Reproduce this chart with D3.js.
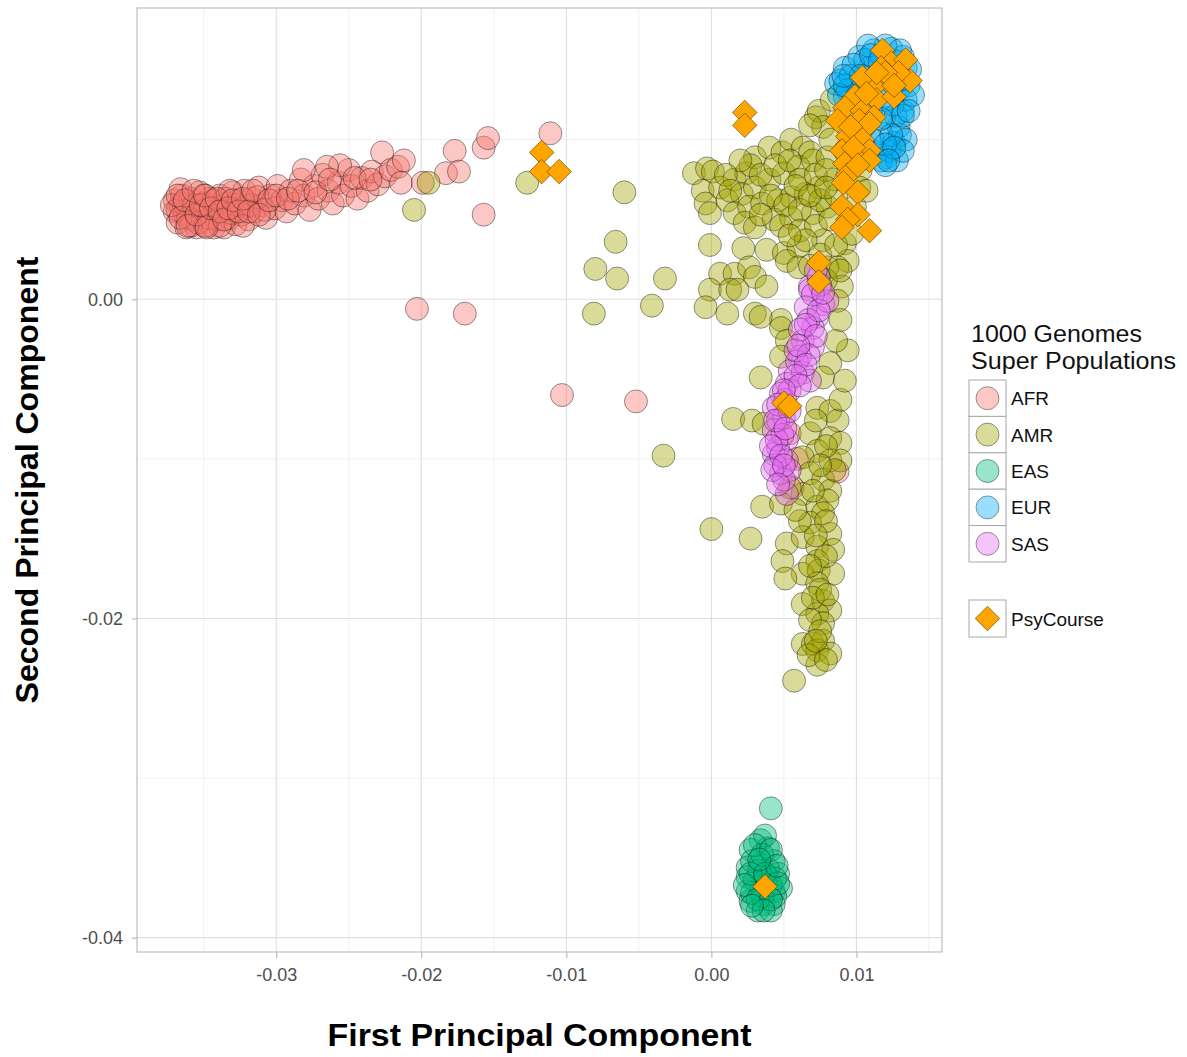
<!DOCTYPE html>
<html>
<head>
<meta charset="utf-8">
<script src="https://cdn.jsdelivr.net/npm/d3@7"></script>
<style>
  body { margin: 0; background: #fff; }
  svg { display: block; font-family: "Liberation Sans", Arial, Helvetica, sans-serif; }
</style>
</head>
<body>
<svg id="chart" width="1187" height="1057"></svg>
<script>
// PCA of 1000 Genomes super populations with PsyCourse samples projected on top.
// Each sample: [first principal component, second principal component]

const afr = [
  [-0.0370,0.0062],[-0.0370,0.0055],[-0.0368,0.0048],[-0.0366,0.0059],[-0.0365,0.0065],[-0.0363,0.0053],
  [-0.0362,0.0045],[-0.0361,0.0057],[-0.0359,0.0063],[-0.0358,0.0050],[-0.0356,0.0056],[-0.0355,0.0045],
  [-0.0353,0.0067],[-0.0352,0.0053],[-0.0350,0.0060],[-0.0348,0.0046],[-0.0347,0.0055],[-0.0346,0.0063],
  [-0.0343,0.0045],[-0.0342,0.0058],[-0.0341,0.0050],[-0.0339,0.0065],[-0.0337,0.0055],[-0.0336,0.0045],
  [-0.0334,0.0060],[-0.0332,0.0051],[-0.0330,0.0067],[-0.0329,0.0056],[-0.0328,0.0047],[-0.0326,0.0062],
  [-0.0324,0.0053],[-0.0322,0.0068],[-0.0321,0.0058],[-0.0319,0.0050],[-0.0317,0.0063],[-0.0315,0.0055],
  [-0.0312,0.0070],[-0.0310,0.0059],[-0.0307,0.0051],[-0.0304,0.0065],[-0.0301,0.0057],[-0.0299,0.0071],
  [-0.0296,0.0062],[-0.0293,0.0055],[-0.0290,0.0068],[-0.0287,0.0060],[-0.0283,0.0075],[-0.0281,0.0065],
  [-0.0277,0.0056],[-0.0274,0.0071],[-0.0271,0.0063],[-0.0268,0.0078],[-0.0264,0.0068],[-0.0261,0.0060],
  [-0.0257,0.0073],[-0.0254,0.0065],[-0.0250,0.0081],[-0.0248,0.0071],[-0.0244,0.0063],[-0.0241,0.0076],
  [-0.0237,0.0068],[-0.0234,0.0080],[-0.0230,0.0072],[-0.0227,0.0092],[-0.0225,0.0077],[-0.0221,0.0081],
  [-0.0216,0.0083],[-0.0212,0.0087],[-0.0256,0.0084],[-0.0281,0.0081],[-0.0265,0.0083],
  [-0.0368,0.0056],[-0.0364,0.0060],[-0.0361,0.0051],[-0.0357,0.0059],[-0.0354,0.0048],[-0.0350,0.0065],
  [-0.0346,0.0051],[-0.0343,0.0062],[-0.0339,0.0046],[-0.0335,0.0063],[-0.0331,0.0054],[-0.0327,0.0059],
  [-0.0323,0.0046],[-0.0318,0.0059],[-0.0313,0.0064],[-0.0308,0.0056],[-0.0366,0.0069],[-0.0359,0.0046],
  [-0.0349,0.0046],[-0.0332,0.0068],
  [-0.0372,0.0059],[-0.0368,0.0065],[-0.0366,0.0051],[-0.0363,0.0062],[-0.0361,0.0046],[-0.0357,0.0068],
  [-0.0355,0.0053],[-0.0352,0.0059],[-0.0349,0.0065],[-0.0348,0.0045],[-0.0345,0.0057],[-0.0341,0.0063],
  [-0.0339,0.0055],[-0.0336,0.0050],[-0.0333,0.0057],[-0.0330,0.0062],[-0.0326,0.0055],[-0.0323,0.0063],
  [-0.0319,0.0055],[-0.0316,0.0068],[-0.0312,0.0053],[-0.0305,0.0062],[-0.0300,0.0065],[-0.0292,0.0063],
  [-0.0285,0.0068],[-0.0273,0.0067],[-0.0263,0.0075],[-0.0246,0.0076],[-0.0235,0.0075],
  [-0.0214,0.0073],[-0.0199,0.0073],[-0.0177,0.0093],[-0.0183,0.0079],[-0.0174,0.0080],[-0.0157,0.0095],
  [-0.0154,0.0101],[-0.0157,0.0053],[-0.0111,0.0104],[-0.0203,-0.0006],[-0.0170,-0.0009],[-0.0103,-0.0060],
  [-0.0052,-0.0064],[0.0087,-0.0108],[0.0054,-0.0084],[0.0059,-0.0100],[0.0056,-0.0118]
];

const amr = [
  [-0.0205,0.0056],[-0.0195,0.0073],[-0.0127,0.0073],[-0.0060,0.0067],[-0.0066,0.0036],[-0.0080,0.0019],
  [-0.0065,0.0013],[-0.0032,0.0013],[-0.0081,-0.0009],[-0.0041,-0.0004],[-0.0033,-0.0098],[0.0000,-0.0144],
  [0.0027,-0.0150],[0.0057,-0.0239],
  [-0.0012,0.0079],[-0.0003,0.0082],[0.0001,0.0080],[-0.0006,0.0068],[-0.0004,0.0060],[-0.0001,0.0054],
  [0.0006,0.0070],[0.0016,0.0075],[0.0024,0.0079],[0.0030,0.0089],[0.0040,0.0095],[0.0049,0.0092],
  [0.0055,0.0100],[0.0063,0.0095],[0.0068,0.0092],[0.0072,0.0114],[0.0074,0.0118],[0.0083,0.0125],
  [0.0011,0.0062],[0.0021,0.0066],[0.0030,0.0070],[0.0040,0.0075],[0.0050,0.0079],[0.0060,0.0083],
  [0.0070,0.0087],[0.0080,0.0089],[0.0016,0.0054],[0.0026,0.0058],[0.0035,0.0060],[0.0046,0.0062],
  [0.0055,0.0064],[0.0065,0.0066],[0.0074,0.0070],[0.0085,0.0075],[0.0023,0.0048],[0.0030,0.0045],
  [0.0043,0.0050],[0.0055,0.0051],[0.0070,0.0054],[0.0080,0.0058],[-0.0001,0.0034],[0.0022,0.0032],
  [0.0038,0.0031],[0.0050,0.0029],[0.0060,0.0033],[0.0077,0.0037],[0.0092,0.0035],[0.0094,0.0024],
  [0.0087,0.0020],[0.0006,0.0016],[0.0016,0.0016],[0.0026,0.0020],[0.0030,0.0014],[0.0038,0.0008],
  [0.0052,0.0024],[0.0060,0.0020],[0.0080,0.0020],[0.0090,0.0008],[0.0087,-0.0001],[-0.0001,0.0006],
  [0.0013,0.0006],[-0.0004,-0.0005],[0.0011,-0.0009],[0.0030,-0.0009],[0.0048,-0.0013],
  [0.0027,0.0084],[0.0034,0.0078],[0.0044,0.0084],[0.0054,0.0087],[0.0061,0.0075],[0.0072,0.0078],
  [0.0079,0.0081],[0.0041,0.0065],[0.0051,0.0059],[0.0061,0.0056],[0.0075,0.0062],[0.0086,0.0065],
  [0.0034,0.0053],[0.0048,0.0046],[0.0061,0.0043],[0.0072,0.0046],[0.0082,0.0050],[0.0020,0.0087],
  [0.0010,0.0078],[0.0013,0.0068],[0.0058,0.0071],[0.0068,0.0065],[0.0079,0.0070],[0.0065,0.0037],
  [0.0075,0.0028],[0.0086,0.0034],[0.0068,0.0021],[0.0079,0.0012],[0.0089,0.0018],[0.0054,0.0040],
  [0.0018,0.0006],[0.0034,-0.0011],[0.0048,-0.0018],[0.0052,-0.0026],[0.0048,-0.0036],[0.0034,-0.0049],
  [0.0094,-0.0032],[0.0082,-0.0040],[0.0077,-0.0049],[0.0015,-0.0075],[0.0028,-0.0076],[0.0036,-0.0078],
  [0.0073,-0.0068],[0.0082,-0.0070],[0.0087,-0.0076],[0.0068,-0.0084],[0.0082,-0.0087],[0.0089,-0.0090],
  [0.0073,-0.0095],[0.0063,-0.0099],[0.0082,-0.0101],[0.0089,-0.0101],[0.0068,-0.0109],[0.0077,-0.0113],
  [0.0082,-0.0120],[0.0063,-0.0122],[0.0054,-0.0118],[0.0035,-0.0130],[0.0048,-0.0128],[0.0073,-0.0130],
  [0.0080,-0.0126],[0.0077,-0.0134],[0.0068,-0.0140],[0.0082,-0.0147],[0.0052,-0.0153],[0.0063,-0.0149],
  [0.0073,-0.0155],[0.0084,-0.0157],[0.0049,-0.0164],[0.0073,-0.0164],[0.0063,-0.0172],[0.0074,-0.0170],
  [0.0084,-0.0172],[0.0051,-0.0175],[0.0073,-0.0178],[0.0063,-0.0191],[0.0077,-0.0189],[0.0082,-0.0195],
  [0.0073,-0.0197],[0.0077,-0.0203],[0.0063,-0.0216],[0.0070,-0.0216],[0.0077,-0.0214],[0.0073,-0.0220],
  [0.0082,-0.0222],[0.0073,-0.0229],
  [0.0072,-0.0076],[0.0079,-0.0092],[0.0085,-0.0107],[0.0075,-0.0104],[0.0070,-0.0120],[0.0079,-0.0139],
  [0.0072,-0.0148],[0.0079,-0.0161],[0.0068,-0.0167],[0.0075,-0.0182],[0.0070,-0.0187],[0.0080,-0.0185],
  [0.0068,-0.0201],[0.0075,-0.0208],[0.0067,-0.0223],[0.0079,-0.0226],[0.0072,-0.0214],[0.0061,-0.0139],
  [0.0058,-0.0132],[0.0089,-0.0063],[0.0092,-0.0051],[0.0086,-0.0026],[0.0089,-0.0013],
  [0.0077,0.0108],[0.0082,0.0100],[0.0092,0.0093],[0.0103,0.0081],[0.0102,0.0070],[0.0099,0.0058],
  [0.0097,0.0041],[0.0107,0.0068],[0.0068,0.0109]
];

const eas = [
  [0.0041,-0.0319],[0.0034,-0.0339],[0.0027,-0.0345],[0.0039,-0.0344],[0.0025,-0.0356],[0.0034,-0.0354],
  [0.0043,-0.0352],[0.0025,-0.0362],[0.0039,-0.0362],[0.0046,-0.0360],[0.0025,-0.0371],[0.0034,-0.0371],
  [0.0043,-0.0371],[0.0048,-0.0369],[0.0027,-0.0377],[0.0036,-0.0379],[0.0043,-0.0379],[0.0032,-0.0383],
  [0.0041,-0.0383],[0.0037,-0.0336],[0.0030,-0.0364],[0.0039,-0.0357],[0.0035,-0.0374],[0.0044,-0.0374],
  [0.0028,-0.0352],[0.0037,-0.0364],[0.0033,-0.0358],[0.0041,-0.0367],[0.0035,-0.0348],[0.0044,-0.0363],
  [0.0028,-0.0372],
  [0.0030,-0.0342],[0.0041,-0.0345],[0.0027,-0.0360],[0.0037,-0.0360],[0.0046,-0.0366],[0.0023,-0.0367],
  [0.0032,-0.0376],[0.0041,-0.0376],[0.0036,-0.0383],[0.0028,-0.0380],[0.0045,-0.0355],[0.0033,-0.0351]
];

const eur = [
  [0.0086,0.0135],[0.0092,0.0145],[0.0102,0.0152],[0.0112,0.0156],[0.0124,0.0157],[0.0132,0.0152],
  [0.0134,0.0145],[0.0129,0.0131],[0.0132,0.0118],[0.0129,0.0108],[0.0126,0.0098],[0.0121,0.0089],
  [0.0114,0.0092],[0.0117,0.0104],[0.0119,0.0114],[0.0109,0.0145],[0.0099,0.0133],[0.0092,0.0127],
  [0.0089,0.0137],[0.0096,0.0140],[0.0106,0.0150],[0.0117,0.0153],[0.0127,0.0149],[0.0137,0.0144],
  [0.0136,0.0134],[0.0123,0.0137],[0.0113,0.0131],[0.0104,0.0125],[0.0110,0.0118],[0.0120,0.0125],
  [0.0127,0.0115],[0.0130,0.0103],[0.0123,0.0093],[0.0117,0.0087],[0.0111,0.0100],[0.0106,0.0109],
  [0.0103,0.0106],[0.0096,0.0118],[0.0134,0.0125],[0.0139,0.0128],[0.0120,0.0159],[0.0108,0.0159],
  [0.0134,0.0100],[0.0128,0.0087],[0.0120,0.0084],[0.0132,0.0093],[0.0094,0.0131],[0.0088,0.0128],
  [0.0092,0.0134],[0.0098,0.0147],[0.0103,0.0140],[0.0110,0.0153],[0.0116,0.0149],[0.0122,0.0144],
  [0.0130,0.0156],[0.0132,0.0138],[0.0125,0.0122],[0.0132,0.0115],[0.0124,0.0103],[0.0120,0.0097],
  [0.0126,0.0095],[0.0117,0.0113],[0.0101,0.0128],[0.0091,0.0140],[0.0136,0.0118],[0.0122,0.0087]
];

const sas = [
  [0.0068,0.0008],[0.0077,-0.0003],[0.0073,-0.0011],[0.0070,-0.0018],[0.0063,-0.0026],[0.0070,-0.0030],
  [0.0061,-0.0036],[0.0054,-0.0045],[0.0063,-0.0046],[0.0052,-0.0053],[0.0068,-0.0051],[0.0048,-0.0059],
  [0.0043,-0.0068],[0.0050,-0.0074],[0.0043,-0.0082],[0.0046,-0.0093],[0.0052,-0.0088],[0.0043,-0.0097],
  [0.0052,-0.0101],[0.0048,-0.0109],[0.0054,-0.0107],[0.0052,-0.0122],[0.0068,0.0006],[0.0080,-0.0001],
  [0.0065,-0.0005],[0.0074,0.0014],[0.0072,0.0018],[0.0075,0.0009],[0.0059,-0.0039],[0.0051,-0.0063],
  [0.0046,-0.0076],[0.0049,-0.0085],[0.0044,-0.0104],[0.0050,-0.0113],[0.0058,-0.0032],[0.0067,-0.0013],
  [0.0061,-0.0019],[0.0054,-0.0057],[0.0045,-0.0088],
  [0.0070,0.0003],[0.0074,-0.0007],[0.0065,-0.0016],[0.0072,-0.0023],[0.0067,-0.0035],[0.0060,-0.0029],
  [0.0065,-0.0041],[0.0058,-0.0048],[0.0061,-0.0054],[0.0050,-0.0057],[0.0046,-0.0066],[0.0054,-0.0070],
  [0.0044,-0.0076],[0.0051,-0.0081],[0.0041,-0.0092],[0.0048,-0.0098],[0.0042,-0.0107],[0.0050,-0.0104],
  [0.0046,-0.0116],[0.0077,0.0004]
];

const psycourse = [
  [-0.0117,0.0092],[-0.0117,0.0080],[-0.0105,0.0080],[0.0023,0.0117],[0.0023,0.0109],
  [0.0118,0.0156],[0.0124,0.0148],[0.0134,0.0150],[0.0137,0.0137],[0.0121,0.0137],[0.0112,0.0133],
  [0.0104,0.0139],[0.0117,0.0145],[0.0129,0.0142],[0.0099,0.0127],[0.0114,0.0125],[0.0126,0.0127],
  [0.0092,0.0120],[0.0104,0.0118],[0.0112,0.0114],[0.0087,0.0112],[0.0102,0.0112],[0.0109,0.0110],
  [0.0094,0.0102],[0.0104,0.0100],[0.0090,0.0093],[0.0109,0.0093],[0.0099,0.0089],[0.0092,0.0085],
  [0.0109,0.0087],[0.0120,0.0142],[0.0126,0.0134],[0.0114,0.0142],[0.0107,0.0129],[0.0096,0.0108],
  [0.0098,0.0095],[0.0094,0.0078],[0.0101,0.0084],
  [0.0091,0.0073],[0.0101,0.0067],[0.0090,0.0058],[0.0101,0.0053],[0.0094,0.0050],[0.0090,0.0045],
  [0.0109,0.0043],[0.0074,0.0023],[0.0074,0.0011],[0.0050,-0.0065],[0.0054,-0.0067],[0.0037,-0.0368]
];

const populations = ["AFR", "AMR", "EAS", "EUR", "SAS"];
const populationColors = ["#F8766D", "#A3A500", "#00BF7D", "#00B0F6", "#E76BF3"];
const populationData = [afr, amr, eas, eur, sas];
const cohortLabel = "PsyCourse";
const legendTitle = ["1000 Genomes", "Super Populations"];

const xTicks = [-0.03, -0.02, -0.01, 0.00, 0.01];
const xMinor = [-0.035, -0.025, -0.015, -0.005, 0.005, 0.015];
const yTicks = [0.00, -0.02, -0.04];
const yMinor = [0.01, -0.01, -0.03];

// ---- layout ----
const panel = { left: 137, right: 942, top: 8, bottom: 952 };
const svg = d3.select("#chart");

const x = d3.scaleLinear().domain([-0.0396, 0.0159]).range([panel.left, panel.right]);
const y = d3.scaleLinear().domain([0.01825, -0.0409]).range([panel.top, panel.bottom]);
const fmt = d => d.toFixed(2);

const plot = svg.append("g");
plot.append("defs").append("clipPath").attr("id", "panel-clip")
  .append("rect")
  .attr("x", panel.left).attr("y", panel.top)
  .attr("width", panel.right - panel.left).attr("height", panel.bottom - panel.top);

// grid
const grid = plot.append("g");
grid.selectAll(".vminor").data(xMinor).join("line")
  .attr("x1", d => x(d)).attr("x2", d => x(d))
  .attr("y1", panel.top).attr("y2", panel.bottom)
  .attr("stroke", "#f0f0f0").attr("stroke-width", 1);
grid.selectAll(".hminor").data(yMinor).join("line")
  .attr("y1", d => y(d)).attr("y2", d => y(d))
  .attr("x1", panel.left).attr("x2", panel.right)
  .attr("stroke", "#f0f0f0").attr("stroke-width", 1);
grid.selectAll(".vmajor").data(xTicks).join("line")
  .attr("x1", d => x(d)).attr("x2", d => x(d))
  .attr("y1", panel.top).attr("y2", panel.bottom)
  .attr("stroke", "#dedede").attr("stroke-width", 1.1);
grid.selectAll(".hmajor").data(yTicks).join("line")
  .attr("y1", d => y(d)).attr("y2", d => y(d))
  .attr("x1", panel.left).attr("x2", panel.right)
  .attr("stroke", "#dedede").attr("stroke-width", 1.1);

// population points
const pts = plot.append("g").attr("clip-path", "url(#panel-clip)");
populationData.forEach((data, i) => {
  pts.append("g").selectAll("circle").data(data).join("circle")
    .attr("cx", d => x(d[0])).attr("cy", d => y(d[1]))
    .attr("r", 11.5)
    .attr("fill", populationColors[i]).attr("fill-opacity", 0.4)
    .attr("stroke", "#000").attr("stroke-opacity", 0.4).attr("stroke-width", 1);
});

// cohort diamonds
const diamond = d3.symbol().type(d3.symbolSquare).size(300);
pts.append("g").selectAll("path").data(psycourse).join("path")
  .attr("d", diamond)
  .attr("transform", d => `translate(${x(d[0])},${y(d[1])}) rotate(45)`)
  .attr("fill", "#FFA500")
  .attr("stroke", "#5a3d00").attr("stroke-opacity", 0.75).attr("stroke-width", 0.8);

// panel border
plot.append("rect")
  .attr("x", panel.left).attr("y", panel.top)
  .attr("width", panel.right - panel.left).attr("height", panel.bottom - panel.top)
  .attr("fill", "none").attr("stroke", "#c4c4c4").attr("stroke-width", 1.3);

// axes
const styleAxis = g => {
  g.select(".domain").remove();
  g.selectAll(".tick line").attr("stroke", "#b0b0b0").attr("stroke-width", 1);
  g.selectAll(".tick text").attr("fill", "#4d4d4d")
    .style("font-size", "18px").style("font-family", "'Liberation Sans', Arial, sans-serif");
};
svg.append("g").attr("transform", `translate(0,${panel.bottom})`)
  .call(d3.axisBottom(x).tickValues(xTicks).tickFormat(fmt).tickSize(6).tickPadding(10))
  .call(styleAxis);
svg.append("g").attr("transform", `translate(${panel.left},0)`)
  .call(d3.axisLeft(y).tickValues(yTicks).tickFormat(fmt).tickSize(5).tickPadding(9))
  .call(styleAxis);

// axis titles
svg.append("text")
  .attr("x", (panel.left + panel.right) / 2).attr("y", 1046)
  .attr("text-anchor", "middle")
  .attr("font-weight", "bold").attr("font-size", 31)
  .attr("textLength", 424).attr("lengthAdjust", "spacingAndGlyphs")
  .text("First Principal Component");
svg.append("text")
  .attr("transform", `translate(38,${(panel.top + panel.bottom) / 2}) rotate(-90)`)
  .attr("text-anchor", "middle")
  .attr("font-weight", "bold").attr("font-size", 31)
  .attr("textLength", 447).attr("lengthAdjust", "spacingAndGlyphs")
  .text("Second Principal Component");

// legend
const legend = svg.append("g");
const titleWidths = [171, 205];
legend.selectAll(".ltitle").data(legendTitle).join("text")
  .attr("x", 971).attr("y", (d, i) => 342 + i * 27)
  .attr("font-size", 23).attr("fill", "#111")
  .attr("textLength", (d, i) => titleWidths[i]).attr("lengthAdjust", "spacingAndGlyphs")
  .text(d => d);

const keyX = 969, keyW = 37, keyH = 36.4, keyY0 = 380;
const keys = legend.selectAll(".key").data(populations).join("g")
  .attr("transform", (d, i) => `translate(${keyX},${keyY0 + i * keyH})`);
keys.append("rect").attr("width", keyW).attr("height", keyH)
  .attr("fill", "#fff").attr("stroke", "#a8a8a8").attr("stroke-width", 1);
keys.append("circle").attr("cx", keyW / 2).attr("cy", keyH / 2).attr("r", 11.5)
  .attr("fill", (d, i) => populationColors[i]).attr("fill-opacity", 0.4)
  .attr("stroke", "#000").attr("stroke-opacity", 0.38);
keys.append("text").attr("x", keyW + 5).attr("y", keyH / 2 + 7)
  .attr("font-size", 19).attr("fill", "#111").text(d => d);

const ck = legend.append("g").attr("transform", `translate(${keyX},600)`);
ck.append("rect").attr("width", keyW).attr("height", 37)
  .attr("fill", "#fff").attr("stroke", "#a8a8a8").attr("stroke-width", 1);
ck.append("path").attr("d", diamond)
  .attr("transform", `translate(${keyW / 2},18.5) rotate(45)`)
  .attr("fill", "#FFA500").attr("stroke", "#5a3d00").attr("stroke-opacity", 0.75).attr("stroke-width", 0.8);
ck.append("text").attr("x", keyW + 5).attr("y", 25.5)
  .attr("font-size", 19).attr("fill", "#111").text(cohortLabel);
</script>
</body>
</html>
